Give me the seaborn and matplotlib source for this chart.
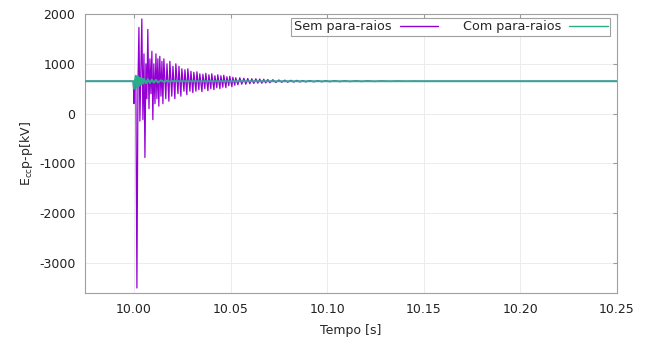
import matplotlib
matplotlib.use("Agg")
import matplotlib.pyplot as plt
import seaborn as sns
import pandas as pd
import numpy as np

# Tempo relativo a 10 s, em milissegundos
t_sem_ms = [-25.0, -0.3, 0.0, 0.3, 1.0, 1.55, 2.1, 2.6, 3.1, 3.6, 4.1, 4.65, 5.2, 5.7,
            6.2, 6.7, 7.2, 7.8, 8.3, 8.8, 9.3, 9.8, 10.3, 10.9, 11.4, 11.9, 12.4, 12.9,
            13.4, 14.0, 14.5, 15.0, 15.5, 16.5, 17.1, 18.1, 18.6, 19.6, 20.2, 21.2, 21.7,
            22.8, 23.3, 24.3, 24.8, 25.9, 26.4, 27.4, 27.9, 29.0, 29.5, 30.5, 31.0, 32.1,
            32.6, 33.6, 34.1, 35.2, 35.7, 36.7, 37.2, 38.3, 38.8, 39.8, 40.3, 41.4, 41.9,
            42.9, 43.4, 44.5, 45.0, 46.0, 46.5, 47.6, 48.1, 49.1, 49.6, 50.7, 51.2, 52.2,
            52.7, 53.8, 54.8, 55.8, 56.9, 57.9, 58.9, 60.0, 61.0, 62.0, 63.1, 64.1, 65.1,
            66.2, 67.2, 68.2, 69.3, 70.3, 71.9, 73.4, 75.0, 76.5, 78.1, 79.6, 81.2, 82.7,
            84.3, 85.8, 87.4, 88.9, 91.0, 93.1, 95.1, 97.2, 99.3, 101.3, 103.9, 106.5,
            109.1, 111.7, 114.8, 117.9, 121.0, 124.6, 128.2, 132.4, 136.5, 140.6, 144.8,
            148.9, 153.0, 250.0]
v_sem = [650, 650, 200, 650, 700, -3500, 600, 1730, -150, 900, 1900, -120, 1200, -880,
         1000, 300, 1690, 100, 1100, 400, 1250, -120, 1000, 200, 1200, 300, 1100, 150,
         1150, 350, 1050, 200, 1100, 300, 1000, 250, 1050, 350, 950, 300, 1000,
         400, 950, 350, 900, 450, 880, 380, 900, 450, 850, 420, 830, 450,
         840, 480, 800, 440, 790, 500, 810, 460, 780, 500, 800, 480, 760,
         520, 780, 500, 760, 530, 770, 520, 740, 560, 750, 540, 730, 570,
         720, 580, 720, 590, 710, 590, 705, 600, 700, 605, 700, 610, 695,
         610, 690, 615, 685, 620, 680, 625, 675, 628, 672, 630, 670, 632,
         668, 634, 665, 636, 664, 637, 662, 638, 661, 640, 660, 641,
         659, 642, 658, 643, 657, 644, 655, 646, 654, 647, 652,
         649, 650, 650]

t_com_ms = [-25.0, -0.3, 0.0, 0.5, 1.0, 1.5, 2.1, 2.6, 3.1, 3.6, 4.1, 4.7, 5.2, 6.2,
            7.2, 8.3, 9.3, 10.3, 11.4, 12.4, 14.0, 15.5, 17.1, 18.6, 20.2, 22.0, 250.0]
v_com = [650, 650, 500, 650, 760, 520, 740, 560, 720, 580, 710, 600, 700, 610,
         690, 615, 685, 620, 680, 625, 670, 635, 662, 642, 655, 650, 650]

df = pd.concat([
    pd.DataFrame({"t": 10 + np.array(t_sem_ms) / 1000, "v": v_sem, "serie": "Sem para-raios"}),
    pd.DataFrame({"t": 10 + np.array(t_com_ms) / 1000, "v": v_com, "serie": "Com para-raios"}),
], ignore_index=True)

sns.set_style("white")
plt.rcParams["font.family"] = ["DejaVu Sans"]
plt.rcParams["axes.unicode_minus"] = False

fig = plt.figure(figsize=(6.51, 3.41), dpi=100)
ax = fig.add_axes([0.1306, 0.1408, 0.8172, 0.8182])

sns.lineplot(data=df, x="t", y="v", hue="serie", sort=False, estimator=None,
             palette={"Sem para-raios": "#9400d3", "Com para-raios": "#2aad8a"},
             linewidth=0.9, ax=ax)
# linha verde por cima, um pouco mais grossa
ax.lines[1].set_linewidth(1.4)
ax.lines[1].set_zorder(3)

ax.set_xlim(9.9747, 10.25)
ax.set_ylim(-3600, 2000)
ax.set_xticks([10.00, 10.05, 10.10, 10.15, 10.20, 10.25])
ax.set_xticklabels(["10.00", "10.05", "10.10", "10.15", "10.20", "10.25"])
ax.set_yticks([2000, 1000, 0, -1000, -2000, -3000])
ax.tick_params(axis="both", direction="in", length=3, color="#999999",
               labelsize=9, labelcolor="#222222", pad=7, top=True, right=True)
ax.grid(True, color="#ececec", linewidth=0.7)
for s in ax.spines.values():
    s.set_color("#a0a0a0")
    s.set_linewidth(0.8)

ax.set_xlabel("Tempo [s]", fontsize=9, labelpad=6)
ax.set_ylabel(r"E$_{\mathrm{cc}}$p-p[kV]", fontsize=9, labelpad=3)

leg = ax.legend(loc="upper right", ncol=2, markerfirst=False, fontsize=9.2,
                frameon=True, fancybox=False, framealpha=1, edgecolor="#a0a0a0",
                borderpad=0.2, borderaxespad=0, handlelength=3.0, handletextpad=0.65,
                columnspacing=1.9, bbox_to_anchor=(0.987, 0.986))
leg.get_frame().set_linewidth(0.8)
for ln in leg.get_lines():
    ln.set_linewidth(1.0)

fig.savefig("out.png", dpi=100)
